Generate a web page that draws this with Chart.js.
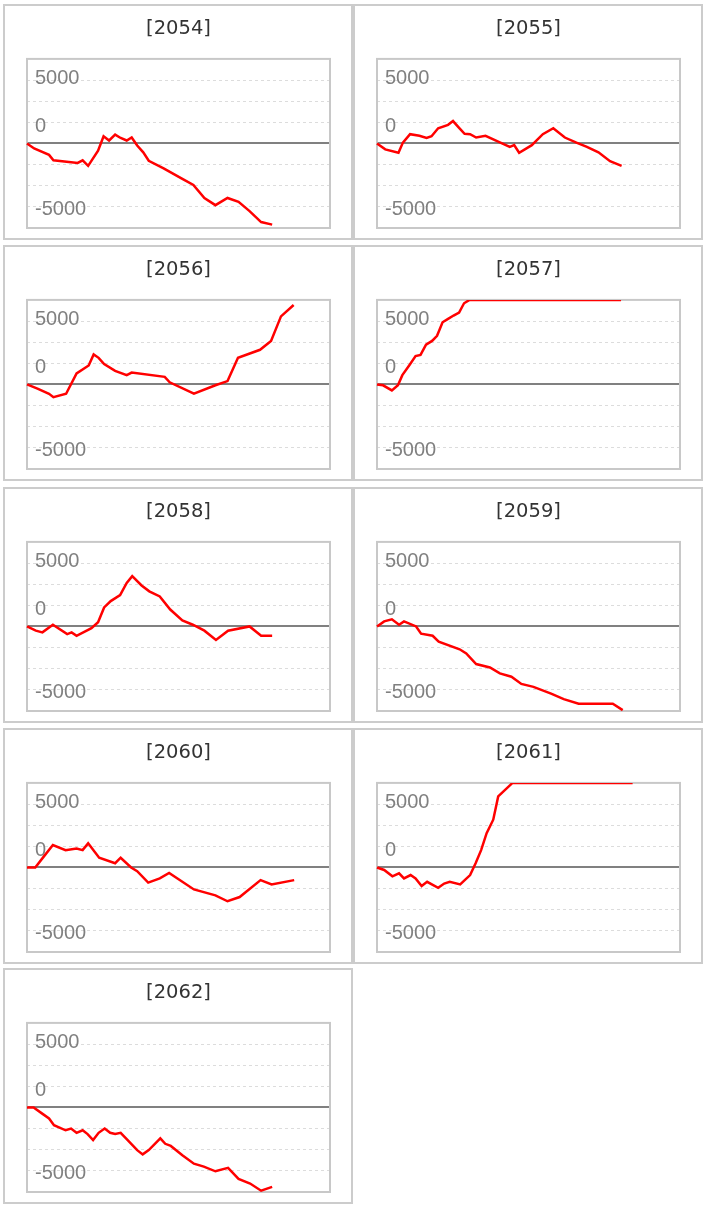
<!DOCTYPE html>
<html>
<head>
<meta charset="utf-8">
<script src="https://cdn.jsdelivr.net/npm/chart.js@4.4.0/dist/chart.umd.min.js"></script>
<style>
    body { margin: 0; background: #ffffff; }
    #board { position: relative; width: 707px; height: 1209px; }
    .panel { position: absolute; width: 346px; height: 232px; border: 2px solid #cccccc; background: #ffffff; }
    .panel canvas { display: block; }
</style>
</head>
<body>
<div id="board"></div>
<script>
const years = ["2054", "2055", "2056", "2057", "2058", "2059", "2060", "2061", "2062"];

// y tick labels as printed on the original axis, and where they sit
const yTickLabels = ["-5000", "0", "5000"];
const yTickPlaces = [-7850, 2050, 7650];

const days2054 = [0, 1.3, 4, 4.8, 9.2, 10.1, 11.1, 12.9, 13.9, 14.9, 16, 17, 18.1, 19, 20, 21.1, 22.1, 24.8, 28.2, 30.2, 32.2, 34.2, 36.4, 38.4, 40.4, 42.5, 44.5];
const values2054 = [0, -600, -1350, -2000, -2300, -2000, -2650, -850, 850, 350, 1050, 650, 350, 700, -250, -1050, -2050, -2950, -4200, -4900, -6450, -7300, -6450, -6900, -8000, -9300, -9600];

const days2055 = [0, 1.5, 3.9, 4.7, 6, 7.7, 9, 9.9, 11.1, 12.9, 13.8, 14.9, 15.9, 16.9, 18, 19.7, 21.7, 24.1, 24.9, 25.8, 28.1, 30.1, 32, 34.1, 36.2, 38.1, 40.2, 42.3, 44.4];
const values2055 = [0, -700, -1100, 100, 1100, 900, 650, 850, 1800, 2200, 2650, 1850, 1150, 1100, 700, 900, 300, -400, -200, -1100, -200, 1100, 1800, 700, 100, -400, -1050, -2100, -2650];

const days2056 = [0, 1.9, 4, 4.8, 7.1, 9, 11.2, 12.1, 13, 14, 16, 18.1, 19, 25, 25.9, 30.3, 34.2, 36.4, 38.3, 42.3, 44.3, 46.1, 48.4];
const values2056 = [0, -500, -1100, -1500, -1100, 1300, 2250, 3550, 3150, 2400, 1600, 1100, 1400, 900, 250, -1100, -100, 400, 3150, 4100, 5150, 8050, 9400];

const days2057 = [0, 1.1, 2.7, 3.8, 4.6, 5.9, 7, 7.9, 8.9, 10, 10.9, 11.9, 12.9, 13.9, 14.9, 15.8, 16.8, 44.3];
const values2057 = [0, -100, -700, -100, 1100, 2300, 3350, 3500, 4700, 5150, 5750, 7350, 7750, 8150, 8500, 9600, 10000, 10000];

const days2058 = [0, 1.6, 2.8, 4.7, 7.3, 8.1, 9, 11.7, 12.9, 14, 15.2, 16.9, 18.1, 19.1, 20.8, 22.2, 24.1, 26, 28.2, 30.1, 32.2, 34.3, 36.5, 40.4, 42.5, 44.5];
const values2058 = [0, -500, -700, 200, -900, -700, -1100, -200, 500, 2250, 3000, 3700, 5150, 5950, 4850, 4150, 3550, 2000, 700, 200, -500, -1600, -500, 0, -1100, -1100];

const days2059 = [0, 1.3, 2.7, 4, 4.9, 7.1, 8, 10.1, 11.2, 15, 16.2, 18, 20.5, 22.3, 24.4, 26.2, 28.4, 31.6, 33.9, 36.6, 42.8, 44.6];
const values2059 = [0, 600, 850, 200, 600, 0, -850, -1100, -1800, -2700, -3200, -4450, -4850, -5550, -5950, -6800, -7150, -7950, -8600, -9150, -9150, -9900];

const days2060 = [0, 1.5, 3, 4.7, 7, 9, 10.1, 11.1, 13.1, 16, 17, 18.9, 20, 22, 24.1, 25.8, 30.3, 34.2, 36.4, 38.6, 42.4, 44.4, 48.5];
const values2060 = [0, 0, 1250, 2650, 2050, 2250, 2050, 2850, 1150, 500, 1150, 0, -450, -1800, -1300, -650, -2600, -3300, -4000, -3500, -1500, -2000, -1500];

const days2061 = [0, 1.3, 2.8, 4, 4.9, 6.1, 7, 8.1, 9.1, 11.1, 12.2, 13.2, 15.1, 16.9, 17.9, 18.9, 19.9, 21.1, 22, 24.6, 46.4];
const values2061 = [0, -300, -1050, -700, -1300, -900, -1300, -2200, -1700, -2400, -1900, -1700, -2000, -900, 500, 2050, 4050, 5650, 8400, 10000, 10000];

const days2062 = [0, 1.2, 2.7, 4, 4.9, 7, 8, 9, 10.1, 11, 12, 13, 14.1, 15.1, 16, 17, 18.1, 20, 21, 22.1, 24.2, 25.1, 26.1, 28.2, 30.3, 32.1, 34.2, 36.5, 38.4, 40.5, 42.5, 44.5];
const values2062 = [0, 0, -700, -1300, -2100, -2700, -2500, -3000, -2700, -3150, -3850, -3000, -2500, -3000, -3150, -3000, -3750, -5050, -5550, -5050, -3650, -4300, -4550, -5650, -6650, -7000, -7550, -7150, -8450, -9000, -9850, -9400];

const seriesDays = [days2054, days2055, days2056, days2057, days2058, days2059, days2060, days2061, days2062];
const seriesValues = [values2054, values2055, values2056, values2057, values2058, values2059, values2060, values2061, values2062];

const colours = {
    line: "#ff0000",
    frame: "#c8c8c8",
    grid: "#dcdcdc",
    zero: "#808080",
    tick: "#808080",
    title: "#333333"
};

const panelLefts = [3, 353];
const panelTops = [4, 245, 487, 728, 968];

const framePlugin = {
    id: "plotFrame",
    beforeDatasetsDraw(chart) {
        const { ctx, chartArea } = chart;

        ctx.save();
        ctx.strokeStyle = colours.frame;
        ctx.lineWidth = 2;
        ctx.strokeRect(chartArea.left, chartArea.top, chartArea.right - chartArea.left, chartArea.bottom - chartArea.top);
        ctx.restore();
    }
};

function zeroWidth(scale) {
    scale.width = 0;
    scale.paddingTop = 0;
    scale.paddingBottom = 0;
}

function buildPanel(index) {
    const board = document.getElementById("board");
    const panel = document.createElement("div");
    const canvas = document.createElement("canvas");

    panel.className = "panel";
    panel.style.left = panelLefts[index % 2] + "px";
    panel.style.top = panelTops[Math.floor(index / 2)] + "px";
    canvas.width = 346;
    canvas.height = 232;
    panel.appendChild(canvas);
    board.appendChild(panel);

    const points = seriesDays[index].map((day, i) => ({ x: day, y: seriesValues[index][i] }));

    new Chart(canvas, {
        type: "line",
        data: {
            datasets: [{
                data: points,
                borderColor: colours.line,
                borderWidth: 2.5,
                pointRadius: 0,
                tension: 0,
                fill: false,
                clip: { left: 1, right: 1, top: 0, bottom: 1 }
            }]
        },
        options: {
            responsive: false,
            animation: false,
            devicePixelRatio: 1,
            layout: {
                padding: { left: 22, right: 21, top: 0, bottom: 10 }
            },
            plugins: {
                legend: { display: false },
                tooltip: { enabled: false },
                title: {
                    display: true,
                    text: "[" + years[index] + "]",
                    color: colours.title,
                    font: { family: "DejaVu Sans", size: 19.5, weight: "normal", lineHeight: 1.2 },
                    padding: { top: 11, bottom: 18.5 }
                }
            },
            scales: {
                x: {
                    type: "linear",
                    min: 0,
                    max: 55,
                    display: false
                },
                y: {
                    type: "linear",
                    position: "left",
                    min: -10000,
                    max: 10000,
                    afterFit: zeroWidth,
                    ticks: { stepSize: 2500, display: false },
                    grid: {
                        drawTicks: false,
                        color: (ctx) => ctx.tick && ctx.tick.value === 0 ? colours.zero : colours.grid,
                        lineWidth: (ctx) => ctx.tick && ctx.tick.value === 0 ? 2 : 1
                    },
                    border: {
                        display: false,
                        dash: (ctx) => ctx.tick && ctx.tick.value === 0 ? [] : [3, 3]
                    }
                },
                yLabels: {
                    type: "linear",
                    position: "left",
                    min: -10000,
                    max: 10000,
                    afterBuildTicks: (scale) => {
                        scale.ticks = yTickPlaces.map((value) => ({ value }));
                    },
                    afterFit: zeroWidth,
                    grid: { display: false, drawTicks: false },
                    border: { display: false },
                    ticks: {
                        mirror: true,
                        padding: 8,
                        color: colours.tick,
                        font: { family: "Liberation Sans", size: 20 },
                        callback: (value, i) => yTickLabels[i]
                    }
                }
            }
        },
        plugins: [framePlugin]
    });
}

years.forEach((year, index) => buildPanel(index));
</script>
</body>
</html>
